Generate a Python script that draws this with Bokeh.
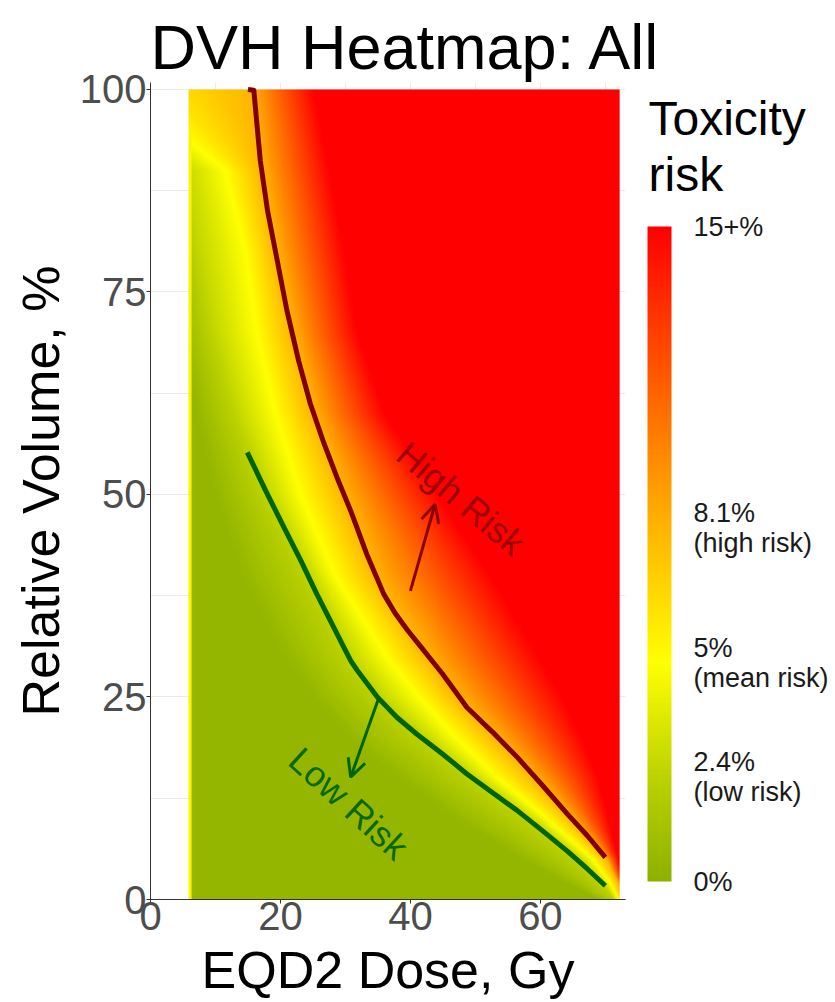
import numpy as np
from bokeh.plotting import figure
from bokeh.models import (LinearColorMapper, FixedTicker, Range1d, Arrow, OpenHead, ColorBar)
from bokeh.core.properties import value
from bokeh.embed import file_html
from bokeh.resources import INLINE

# ---------------- data ----------------
# high-risk (8.1 %) iso-risk line
high_dose = [15.0, 15.9, 16.9, 18.0, 19.5, 21.0, 22.8, 24.6, 26.7, 28.7, 30.8, 33.3, 35.9,
             37.6, 39.5, 41.0, 43.6, 44.9, 48.7, 52.6, 56.4, 60.3, 64.1, 67.2, 70.0]
high_vol = [100.0, 99.9, 91.2, 85.1, 78.9, 72.7, 66.5, 61.2, 56.3, 52.1, 48.0, 42.6, 37.7,
            35.4, 33.3, 31.8, 29.2, 27.9, 23.7, 20.7, 17.6, 14.1, 10.6, 7.9, 5.2]
# low-risk (2.4 %) iso-risk line
low_dose = [14.9, 17.7, 20.5, 23.1, 25.6, 28.2, 30.8, 31.8, 34.9, 37.9, 41.0, 44.9, 48.7,
            52.6, 56.4, 60.3, 64.1, 67.2, 70.0]
low_vol = [55.2, 50.5, 46.0, 41.9, 37.7, 33.6, 29.5, 28.3, 25.0, 22.5, 20.4, 18.0, 15.5,
           13.2, 11.0, 8.5, 6.0, 3.8, 1.7]

# heat-map field: dose (Gy) at which each risk level is reached, per relative volume
field_vol = [0, 2, 5, 10, 15, 20, 25, 30, 40, 50, 60, 70, 80, 90, 100]
risk_levels = [0.4, 2.4, 5.0, 8.1, 15.0]
dose_at_0_4 = [69.0, 64.0, 57.0, 47.0, 38.0, 30.5, 25.0, 20.5, 14.0, 10.0, 7.0, 4.5, 3.0, 1.5, -16.0]
dose_at_2_4 = [71.3, 69.5, 65.8, 58.0, 49.5, 41.5, 34.9, 30.2, 24.0, 17.6, 12.8, 9.2, 6.8, 4.5, -10.0]
dose_at_5_0 = [72.0, 70.8, 68.0, 61.0, 53.5, 47.0, 41.2, 36.2, 28.3, 23.0, 19.2, 16.3, 14.6, 11.5, -4.0]
dose_at_8_1 = [72.6, 72.0, 70.2, 64.8, 59.3, 53.3, 47.4, 42.6, 34.7, 29.8, 25.0, 21.8, 19.3, 17.1, 15.4]
dose_at_15 = [73.5, 72.8, 72.0, 70.5, 69.0, 66.5, 63.5, 59.8, 52.5, 44.2, 36.0, 31.8, 29.8, 27.5, 25.1]
dose_min, dose_max = 5.85, 72.2
vol_min, vol_max = 0.0, 100.0

x_ticks = [0, 20, 40, 60]
x_minor = [10, 30, 50, 70]
y_ticks = [0, 25, 50, 75, 100]
y_minor = [12.5, 37.5, 62.5, 87.5]

cbar_ticks = [0, 2.4, 5, 8.1, 15]
cbar_labels = ["0%", "2.4%\n(low risk)", "5%\n(mean risk)", "8.1%\n(high risk)", "15+%"]
legend_title = "Toxicity\nrisk"

# annotations (text positions, arrows) in data units
high_text = dict(x=47.8, y=49.5, angle_deg=-40.0)
low_text = dict(x=30.5, y=11.85, angle_deg=-42.4)
high_arrow = dict(x0=40.0, y0=38.1, x1=43.8, y1=48.8)
low_arrow = dict(x0=35.1, y0=24.8, x1=30.8, y1=15.1)

# ---------------- colour scale ----------------
cmap_pos = [0.0, 2.4, 5.0, 8.1, 15.0]
cmap_hex = ["#8db100", "#bdd300", "#ffff00", "#ffb400", "#ff0000"]
rgb = np.array([[int(h[i:i + 2], 16) for i in (1, 3, 5)] for h in cmap_hex], dtype=float)
vals = np.linspace(0, 15, 256)
palette = ["#%02x%02x%02x" % tuple(int(round(np.interp(v, cmap_pos, rgb[:, k]))) for k in range(3))
           for v in vals]
mapper = LinearColorMapper(palette=palette, low=0, high=15)

# ---------------- raster built from the iso-risk tables ----------------
nx, ny = 432, 405
D = dose_min + (np.arange(nx) + 0.5) * (dose_max - dose_min) / nx
V = vol_min + (np.arange(ny) + 0.5) * (vol_max - vol_min) / ny
tables = np.array([dose_at_0_4, dose_at_2_4, dose_at_5_0, dose_at_8_1, dose_at_15])
risk = np.empty((ny, nx), dtype=np.float32)
for j, v in enumerate(V):
    cd = [np.interp(v, field_vol, t) for t in tables]
    risk[j] = np.interp(D, cd, risk_levels, left=risk_levels[0], right=risk_levels[-1])
edge = D < dose_min + 0.4
risk[:, edge] = np.maximum(risk[:, edge], 5.5)

FONT = "Liberation Sans"

p = figure(width=835, height=1002, x_range=Range1d(0, 73.1), y_range=Range1d(0, 100.86),
           output_backend="svg", toolbar_location=None,
           min_border_left=150, min_border_right=210, min_border_top=82, min_border_bottom=103)
p.outline_line_color = None
p.background_fill_color = "white"

p.title.text = "DVH Heatmap: All"
p.title.text_font = FONT
p.title.text_font_size = "63px"
p.title.text_font_style = "normal"
p.title.text_color = "black"
p.title.align = "left"
p.title.offset = 0
p.title.standoff = 1

for ax, ticks, minor in ((p.xaxis, x_ticks, x_minor), (p.yaxis, y_ticks, y_minor)):
    ax.ticker = FixedTicker(ticks=ticks, minor_ticks=minor)
    ax.major_label_text_font = FONT
    ax.major_label_text_font_size = "40px"
    ax.major_label_text_color = "#4d4d4d"
    ax.axis_label_text_font = FONT
    ax.axis_label_text_font_size = "52px"
    ax.axis_label_text_font_style = "normal"
    ax.axis_label_text_color = "black"
    ax.axis_line_color = "#333333"
    ax.major_tick_line_color = "#333333"
    ax.major_tick_out = 4
    ax.major_tick_in = 0
    ax.minor_tick_line_color = None

p.xaxis.axis_label = "EQD2 Dose, Gy"
p.xaxis.major_label_standoff = -2
p.xaxis.axis_label_standoff = 8
p.yaxis.axis_label = "Relative Volume, %"
p.yaxis.major_label_standoff = 0
p.yaxis.axis_label_standoff = 7

for g in (p.xgrid, p.ygrid):
    g.grid_line_color = "#ebebeb"
    g.minor_grid_line_color = "#ebebeb"

p.image(image=[risk], x=dose_min, y=vol_min, dw=dose_max - dose_min, dh=vol_max - vol_min,
        color_mapper=mapper)

p.line(high_dose, high_vol, line_color="#800000", line_width=5, line_join="round")
p.line(low_dose, low_vol, line_color="#006400", line_width=5, line_join="round")

p.text(x=[high_text["x"]], y=[high_text["y"]], text=["High Risk"],
       angle=np.deg2rad(high_text["angle_deg"]), text_align="center", text_baseline="middle",
       text_font=value(FONT), text_font_size="36px", text_color="#8b0000", text_alpha=0.85)
p.text(x=[low_text["x"]], y=[low_text["y"]], text=["Low Risk"],
       angle=np.deg2rad(low_text["angle_deg"]), text_align="center", text_baseline="middle",
       text_font=value(FONT), text_font_size="36px", text_color="#006400", text_alpha=0.95)

p.add_layout(Arrow(end=OpenHead(size=18, line_color="#8b0000", line_width=3),
                   x_start=high_arrow["x0"], y_start=high_arrow["y0"],
                   x_end=high_arrow["x1"], y_end=high_arrow["y1"],
                   line_color="#8b0000", line_width=3))
p.add_layout(Arrow(end=OpenHead(size=18, line_color="#006400", line_width=3),
                   x_start=low_arrow["x0"], y_start=low_arrow["y0"],
                   x_end=low_arrow["x1"], y_end=low_arrow["y1"],
                   line_color="#006400", line_width=3))

# ---------------- colour bar legend ----------------
cb = ColorBar(color_mapper=mapper, ticker=FixedTicker(ticks=cbar_ticks),
              major_label_overrides={t: s for t, s in zip(cbar_ticks, cbar_labels)},
              width=24, height=655, location=(497, 18), padding=0, margin=0,
              label_standoff=22, major_label_text_font=FONT, major_label_text_font_size="27px",
              major_label_text_color="#1a1a1a", major_label_text_line_height=1.0,
              major_tick_line_color=None, minor_tick_line_color=None,
              bar_line_color=None, border_line_color=None, background_fill_color=None)
p.add_layout(cb, "center")

# legend title, drawn as the single label of a transparent bar above the colour bar
title_mapper = LinearColorMapper(palette=["#ffffff"], low=0, high=2)
cb_title = ColorBar(color_mapper=title_mapper, ticker=FixedTicker(ticks=[1]),
                    major_label_overrides={1: legend_title}, width=1, height=20,
                    location=(496, 743), padding=0, margin=0, label_standoff=1, scale_alpha=0,
                    major_label_text_font=FONT, major_label_text_font_size="48px",
                    major_label_text_color="black", major_label_text_line_height=1.06,
                    major_tick_line_color=None, minor_tick_line_color=None,
                    bar_line_color=None, border_line_color=None, background_fill_color=None)
p.add_layout(cb_title, "center")

open("out.html", "w").write(file_html(p, INLINE))
